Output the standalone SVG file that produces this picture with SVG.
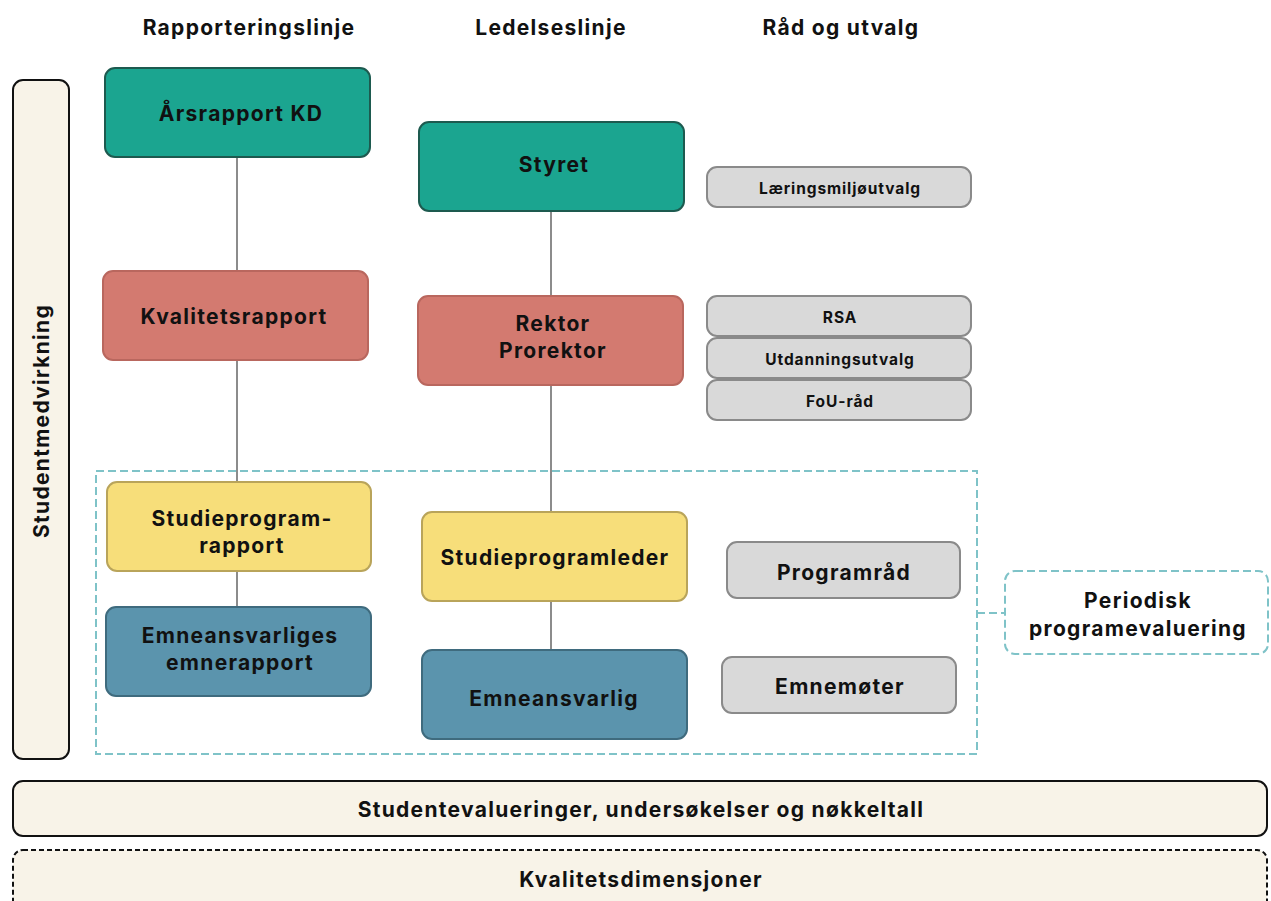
<svg xmlns="http://www.w3.org/2000/svg" width="1271" height="901" viewBox="0 0 1271 901">
<style>
text{font-family:Inter,"Noto Sans","Liberation Sans",sans-serif;font-weight:700;fill:#111;text-anchor:middle;dominant-baseline:central}
.h{font-size:21px;letter-spacing:1.3px}
.n{font-size:21px;letter-spacing:1.3px}
.s{font-size:15.5px;letter-spacing:0.9px}
.m{font-size:21px;letter-spacing:1.3px}
.teal{fill:#1BA590;stroke:#1d5a4f;stroke-width:2}
.red{fill:#D37A70;stroke:#b9675e;stroke-width:2}
.yel{fill:#F7DE7A;stroke:#b9a45a;stroke-width:2}
.blu{fill:#5B94AD;stroke:#3f6b7e;stroke-width:2}
.gry{fill:#D9D9D9;stroke:#8a8a8a;stroke-width:2}
.crm{fill:#F8F3E8;stroke:#111;stroke-width:2}
.dsh{fill:none;stroke:#7FC3C8;stroke-width:2;stroke-dasharray:8 4}
.ln{stroke:#666;stroke-width:1.5;fill:none}
</style>
<g id="headers">
<text class="h" x="249" y="27">Rapporteringslinje</text>
<text class="h" x="551" y="27">Ledelseslinje</text>
<text class="h" x="841" y="27">Råd og utvalg</text>
</g>
<g id="connectors">
<line class="ln" x1="237" y1="157" x2="237" y2="271"/>
<line class="ln" x1="237" y1="360" x2="237" y2="482"/>
<line class="ln" x1="237" y1="571" x2="237" y2="607"/>
<line class="ln" x1="551" y1="211" x2="551" y2="296"/>
<line class="ln" x1="551" y1="385" x2="551" y2="512"/>
<line class="ln" x1="551" y1="601" x2="551" y2="650"/>
<line class="dsh" x1="977" y1="613" x2="1005" y2="613"/>
</g>
<g id="group-periodic"><rect class="dsh" x="96" y="471" width="881" height="283"/></g>
<g id="studentmedvirkning"><rect class="crm" x="13" y="80" width="56" height="679" rx="10"/><text class="n" transform="translate(41 421) rotate(-90)">Studentmedvirkning</text></g>
<g id="arsrapport"><rect class="teal" x="105" y="68" width="265" height="89" rx="10"/><text class="n" x="241" y="113">Årsrapport KD</text></g>
<g id="styret"><rect class="teal" x="419" y="122" width="265" height="89" rx="10"/><text class="n" x="554" y="164">Styret</text></g>
<g id="laeringsmiljo"><rect class="gry" x="707" y="167" width="264" height="40" rx="10"/><text class="s" x="840" y="188">Læringsmiljøutvalg</text></g>
<g id="kvalitetsrapport"><rect class="red" x="103" y="271" width="265" height="89" rx="10"/><text class="n" x="234" y="316">Kvalitetsrapport</text></g>
<g id="rektor"><rect class="red" x="418" y="296" width="265" height="89" rx="10"/><text class="n" x="553" y="323">Rektor</text><text class="n" x="553" y="350">Prorektor</text></g>
<g id="rsa"><rect class="gry" x="707" y="296" width="264" height="40" rx="10"/><text class="s" x="840" y="317">RSA</text></g>
<g id="utdanning"><rect class="gry" x="707" y="338" width="264" height="40" rx="10"/><text class="s" x="840" y="359">Utdanningsutvalg</text></g>
<g id="fou"><rect class="gry" x="707" y="380" width="264" height="40" rx="10"/><text class="s" x="840" y="401">FoU-råd</text></g>
<g id="studieprogramrapport"><rect class="yel" x="107" y="482" width="264" height="89" rx="10"/><text class="n" x="242" y="518">Studieprogram-</text><text class="n" x="242" y="545">rapport</text></g>
<g id="studieprogramleder"><rect class="yel" x="422" y="512" width="265" height="89" rx="10"/><text class="n" x="555" y="557">Studieprogramleder</text></g>
<g id="programrad"><rect class="gry" x="727" y="542" width="233" height="56" rx="10"/><text class="m" x="844" y="572">Programråd</text></g>
<g id="emnerapport"><rect class="blu" x="106" y="607" width="265" height="89" rx="10"/><text class="n" x="240" y="635">Emneansvarliges</text><text class="n" x="240" y="662">emnerapport</text></g>
<g id="emneansvarlig"><rect class="blu" x="422" y="650" width="265" height="89" rx="10"/><text class="n" x="554" y="698">Emneansvarlig</text></g>
<g id="emnemoter"><rect class="gry" x="722" y="657" width="234" height="56" rx="10"/><text class="m" x="840" y="686">Emnemøter</text></g>
<g id="periodisk"><rect class="dsh" x="1005" y="571" width="263" height="83" rx="10"/><text class="m" x="1138" y="600">Periodisk</text><text class="m" x="1138" y="628">programevaluering</text></g>
<g id="studentevalueringer"><rect class="crm" x="13" y="781" width="1254" height="55" rx="10"/><text class="m" x="641" y="809">Studentevalueringer, undersøkelser og nøkkeltall</text></g>
<g id="kvalitetsdimensjoner"><rect x="13" y="850" width="1254" height="60" rx="10" fill="#F8F3E8" stroke="#111" stroke-width="2" stroke-dasharray="5 3"/><text class="m" x="641" y="879">Kvalitetsdimensjoner</text></g>
</svg>
